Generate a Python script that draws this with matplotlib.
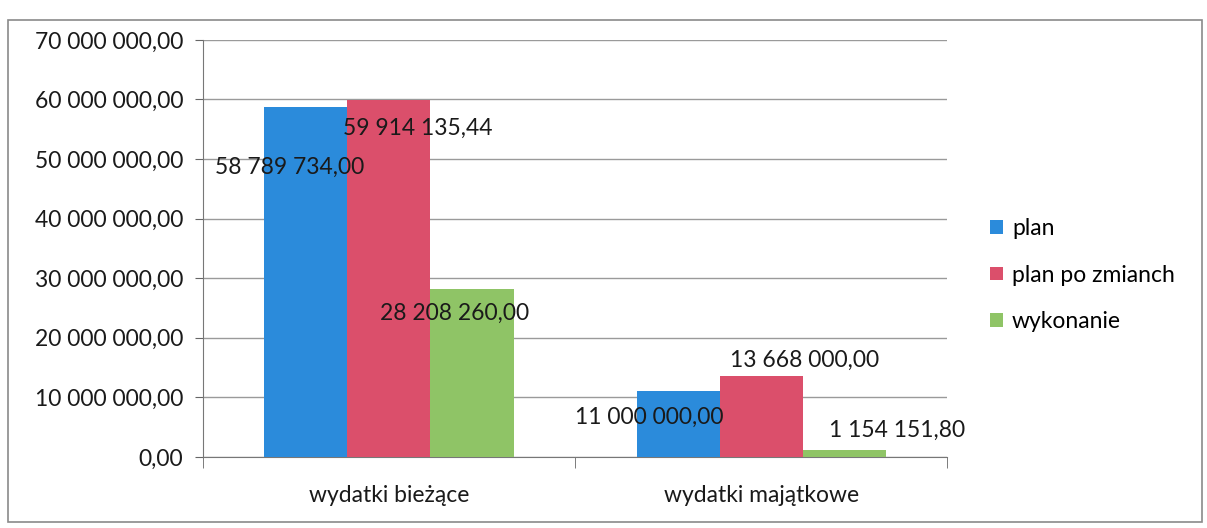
import matplotlib.pyplot as plt
import numpy as np
from matplotlib.patches import Rectangle

plt.rcParams['font.family'] = ['Lato', 'DejaVu Sans']

# Data
categories = ['wydatki bieżące', 'wydatki majątkowe']
series_names = ['plan', 'plan po zmianch', 'wykonanie']
plan = [58789734.00, 11000000.00]
plan_po_zmianach = [59914135.44, 13668000.00]
wykonanie = [28208260.00, 1154151.80]
y_ticks = [0, 10e6, 20e6, 30e6, 40e6, 50e6, 60e6, 70e6]

colors = ['#2B8BDB', '#DB4F6B', '#8FC466']
# label offsets in pixels (label center relative to bar top)
label_offsets = [
    [(-16, -61), (-29, -26)],
    [(29, -28), (43, 15)],
    [(-17, -24), (53, 20)],
]
FS = 16.5


def fmt(v):
    s = f'{v:,.2f}'
    return s.replace(',', ' ').replace('.', ',')


fig = plt.figure(figsize=(12.07, 5.28), dpi=100)
fig.patches.append(Rectangle((0.007, 0.012), 0.989, 0.95, transform=fig.transFigure,
                             fill=False, edgecolor='#8a8a8a', linewidth=1.2))
ax = fig.add_axes([0.168, 0.1345, 0.617, 0.79])

x = np.arange(len(categories))
width = 0.223
all_series = [plan, plan_po_zmianach, wykonanie]
for i, (name, vals) in enumerate(zip(series_names, all_series)):
    pos = x + (i - 1) * width
    bars = ax.bar(pos, vals, width, color=colors[i], label=name, zorder=3)
    for j, (b, v) in enumerate(zip(bars, vals)):
        dx, dy = label_offsets[i][j]
        ax.annotate(fmt(v), xy=(b.get_x() + b.get_width() / 2, v),
                    xytext=(dx, dy), textcoords='offset pixels',
                    ha='center', va='center', fontsize=FS, color='#1a1a1a', zorder=5)

ax.set_xlim(-0.5, 1.5)
ax.set_ylim(0, 70e6)
ax.set_yticks(y_ticks)
ax.set_yticklabels([fmt(v) for v in y_ticks], fontsize=FS, color='#1a1a1a')
ax.yaxis.grid(True, color='#9a9a9a', linewidth=1.0, zorder=0)
ax.set_xticks(x)
ax.set_xticklabels(categories, fontsize=FS, color='#1a1a1a')
ax.set_xticks([-0.5, 0.5, 1.5], minor=True)
ax.tick_params(axis='x', which='major', length=0, pad=20)
ax.tick_params(axis='x', which='minor', length=8, color='#666666')
ax.tick_params(axis='y', length=6, color='#666666', pad=8)
for side in ['top', 'right']:
    ax.spines[side].set_visible(False)
ax.spines['left'].set_color('#777777')
ax.spines['bottom'].set_color('#777777')

ax.legend(loc='center left', bbox_to_anchor=(1.045, 0.436), frameon=False,
          fontsize=FS, handlelength=0.55, handleheight=0.55, handletextpad=0.4,
          labelspacing=1.1, borderaxespad=0)

fig.savefig('out.png', dpi=100)
